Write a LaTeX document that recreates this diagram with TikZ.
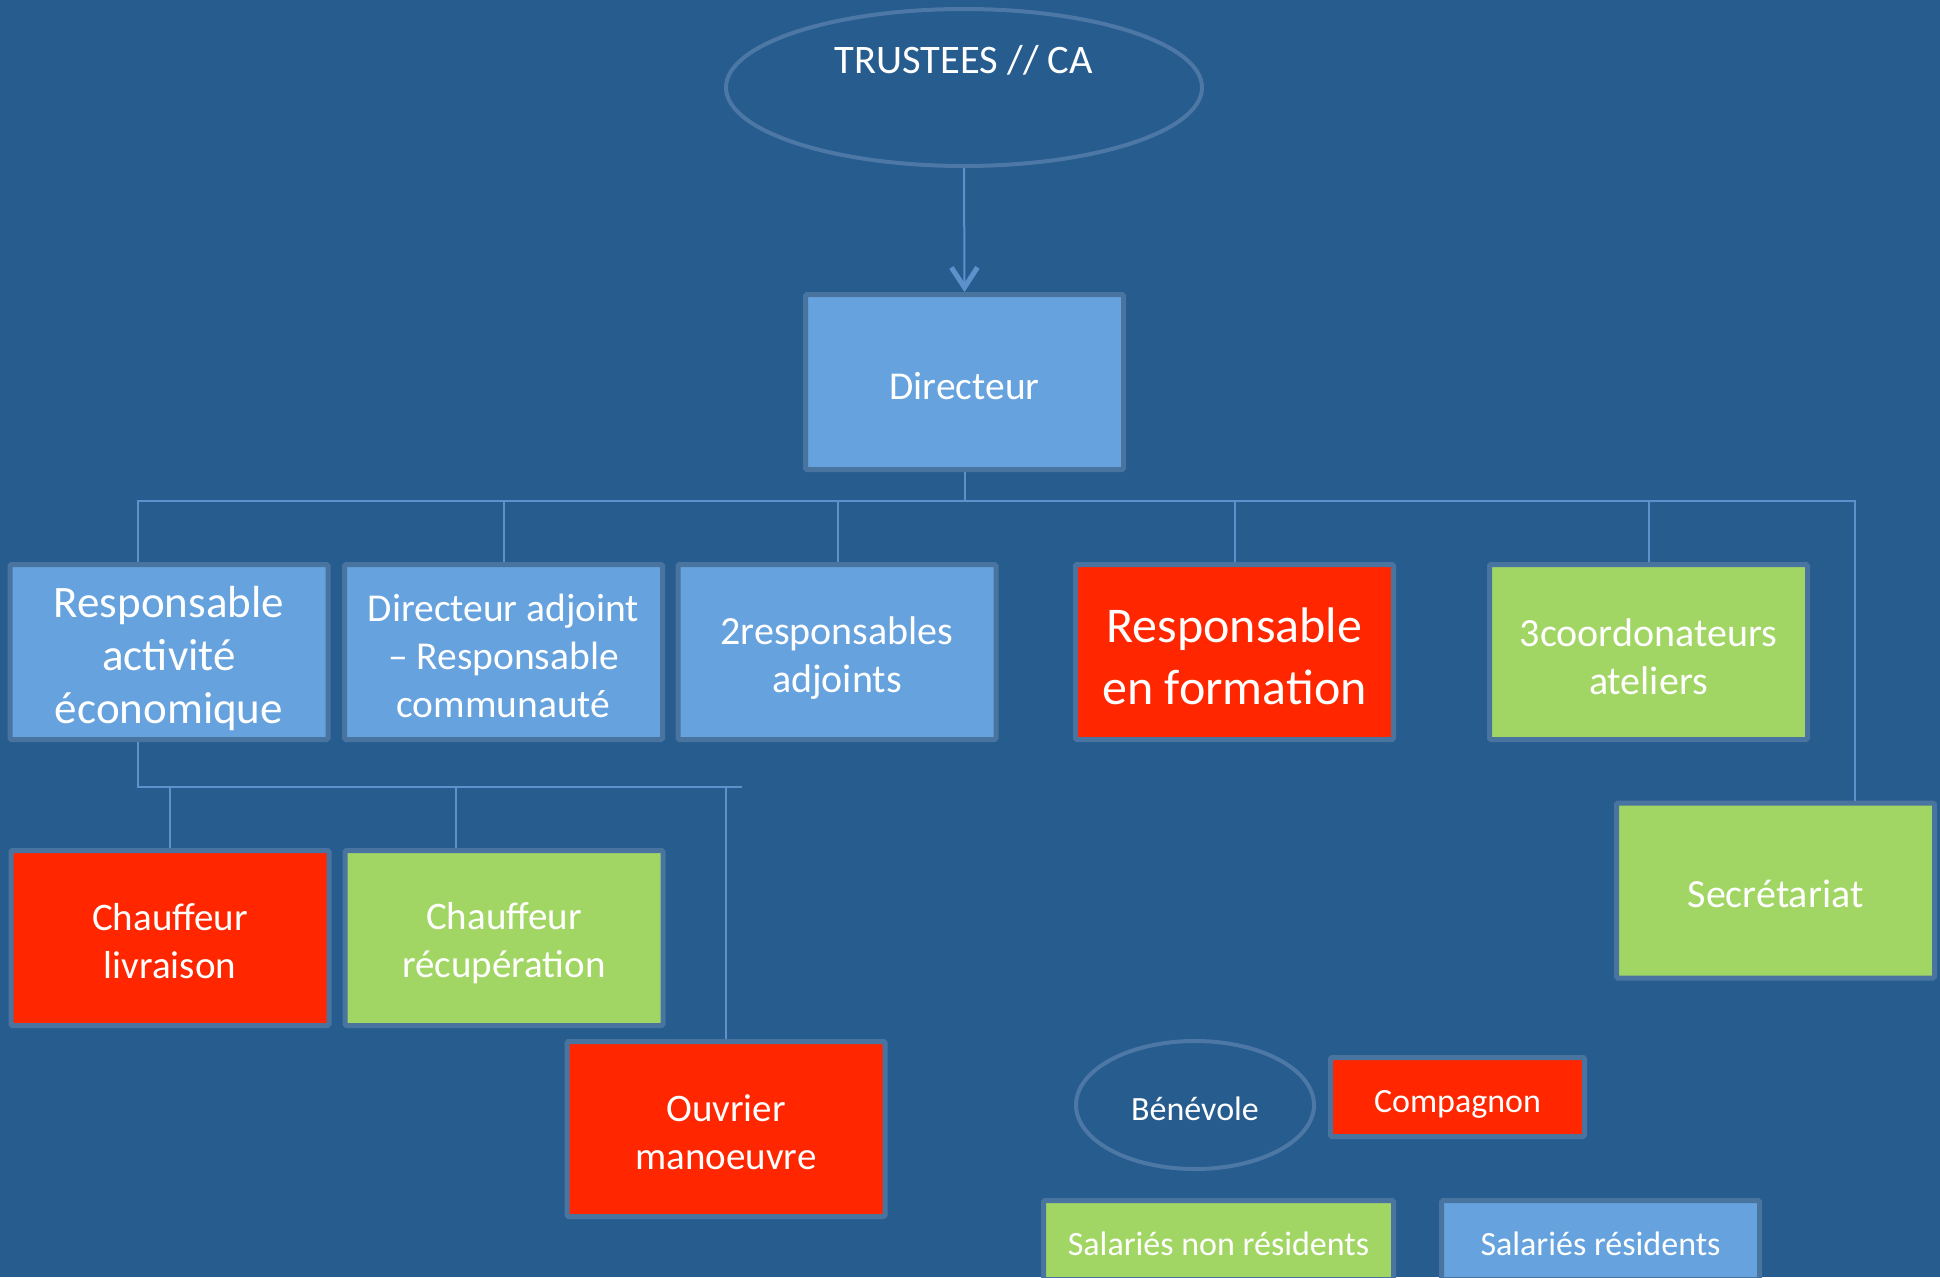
\documentclass[tikz,border=0pt]{standalone}
\usepackage{fontspec}
\setmainfont{Carlito}
\usetikzlibrary{shapes.geometric,arrows.meta}
\definecolor{bgblue}{RGB}{39,92,143}
\definecolor{boxblue}{RGB}{102,162,221}
\definecolor{boxborder}{RGB}{74,116,160}
\definecolor{boxgreen}{RGB}{162,214,100}
\definecolor{boxred}{RGB}{255,38,0}
\definecolor{linkblue}{RGB}{94,145,204}
\definecolor{ellborder}{RGB}{77,120,165}
\tikzset{
  box/.style={rectangle, draw=boxborder, line width=5pt, rounded corners=1.5pt,
    minimum width=318pt, minimum height=175pt, inner sep=0pt},
  bluebox/.style={box, fill=boxblue},
  greenbox/.style={box, fill=boxgreen},
  redbox/.style={box, fill=boxred},
  oval/.style={ellipse, draw=ellborder, line width=4pt, inner sep=0pt},
  link/.style={draw=linkblue, line width=2pt},
  lbl/.style={text=white, align=center, inner sep=0pt}
}
\begin{document}
\begin{tikzpicture}[x=1pt,y=-1pt]
\useasboundingbox (0,0) rectangle (1940,1277);
\clip (0,0) rectangle (1940,1277);
\fill[bgblue] (0,0) rectangle (1940,1277);

% top ellipse
\node[oval, minimum width=476pt, minimum height=157pt] (ca) at (964,87.5) {};
\node[lbl, font=\fontsize{40.5}{50}\selectfont] (catext) at (964,60) {TRUSTEES // CA};

% director
\node[bluebox] (dir) at (964.5,382) {};
\node[lbl, font=\fontsize{39.5}{48}\selectfont] (dirt) at ([yshift=-4pt]dir.center) {Directeur};

% level 2
\node[bluebox] (b1) at (169,652) {};
\node[lbl, font=\fontsize{45}{53}\selectfont] (b1t) at ([yshift=-6pt]b1.center) {Responsable\\activité\\économique};
\node[bluebox] (b2) at (503.5,652) {};
\node[lbl, font=\fontsize{39.5}{48}\selectfont] (b2t) at ([yshift=-4pt]b2.center) {Directeur adjoint\\– Responsable\\communauté};
\node[bluebox] (b3) at (837,652) {};
\node[lbl, font=\fontsize{40}{48}\selectfont] (b3t) at ([yshift=-6pt]b3.center) {2responsables\\adjoints};
\node[redbox] (b4) at (1234.5,652) {};
\node[lbl, font=\fontsize{50}{62}\selectfont] (b4t) at ([yshift=-4pt]b4.center) {Responsable\\en formation};
\node[greenbox] (b5) at (1648.5,652) {};
\node[lbl, font=\fontsize{40}{48}\selectfont] (b5t) at ([yshift=-5pt]b5.center) {3coordonateurs\\ateliers};
\node[greenbox] (sec) at (1775.5,890.5) {};
\node[lbl, font=\fontsize{40}{48}\selectfont] (sect) at ([yshift=-3pt]sec.center) {Secrétariat};

% level 3
\node[redbox] (c1) at (170,938) {};
\node[lbl, font=\fontsize{39}{48}\selectfont] (c1t) at ([yshift=-3pt]c1.center) {Chauffeur\\livraison};
\node[greenbox] (c2) at (504,938) {};
\node[lbl, font=\fontsize{39}{48}\selectfont] (c2t) at ([yshift=-5pt]c2.center) {Chauffeur\\récupération};
\node[redbox] (c3) at (726,1129) {};
\node[lbl, font=\fontsize{39}{48}\selectfont] (c3t) at ([yshift=-3pt]c3.center) {Ouvrier\\manoeuvre};

% legend
\node[oval, minimum width=238pt, minimum height=128pt] (ben) at (1195,1105) {};
\node[lbl, font=\fontsize{34}{40}\selectfont] (bent) at ([yshift=-4pt]ben.center) {Bénévole};
\node[redbox, minimum width=254pt, minimum height=79pt] (comp) at (1457.5,1097) {};
\node[lbl, font=\fontsize{34}{40}\selectfont] (compt) at ([yshift=-7pt]comp.center) {Compagnon};
\node[greenbox, minimum width=350pt, minimum height=79pt] (snr) at (1218.5,1240) {};
\node[lbl, font=\fontsize{34}{40}\selectfont] (snrt) at ([yshift=-4pt]snr.center) {Salariés non résidents};
\node[bluebox, minimum width=318pt, minimum height=79pt] (sr) at (1600.5,1240) {};
\node[lbl, font=\fontsize{34}{40}\selectfont] (srt) at ([yshift=-4pt]sr.center) {Salariés résidents};

% connectors
\draw[link, -{Straight Barb[length=20pt,width=26pt,line width=5pt]}] (ca.south) -- (dir.north);

\coordinate (bus) at (964,501);
\draw[link] (dir.south) -- (dir.south |- bus) -| ([xshift=-31.5pt]b1.north);
\draw[link] (dir.south |- bus) -| (b2.north);
\draw[link] (dir.south |- bus) -| ([xshift=1pt]b3.north);
\draw[link] (dir.south |- bus) -| (b4.north);
\draw[link] (dir.south |- bus) -| (b5.north);
\draw[link] (dir.south |- bus) -| ([xshift=79.5pt]sec.north);

\coordinate (subend) at (742,787);
\draw[link] ([xshift=-31.5pt]b1.south) |- (subend);
\draw[link] (c1.north |- subend) -- (c1.north);
\draw[link] ([xshift=-48pt]c2.north |- subend) -- ([xshift=-48pt]c2.north);
\draw[link] (c3.north |- subend) -- (c3.north);
\end{tikzpicture}
\end{document}
